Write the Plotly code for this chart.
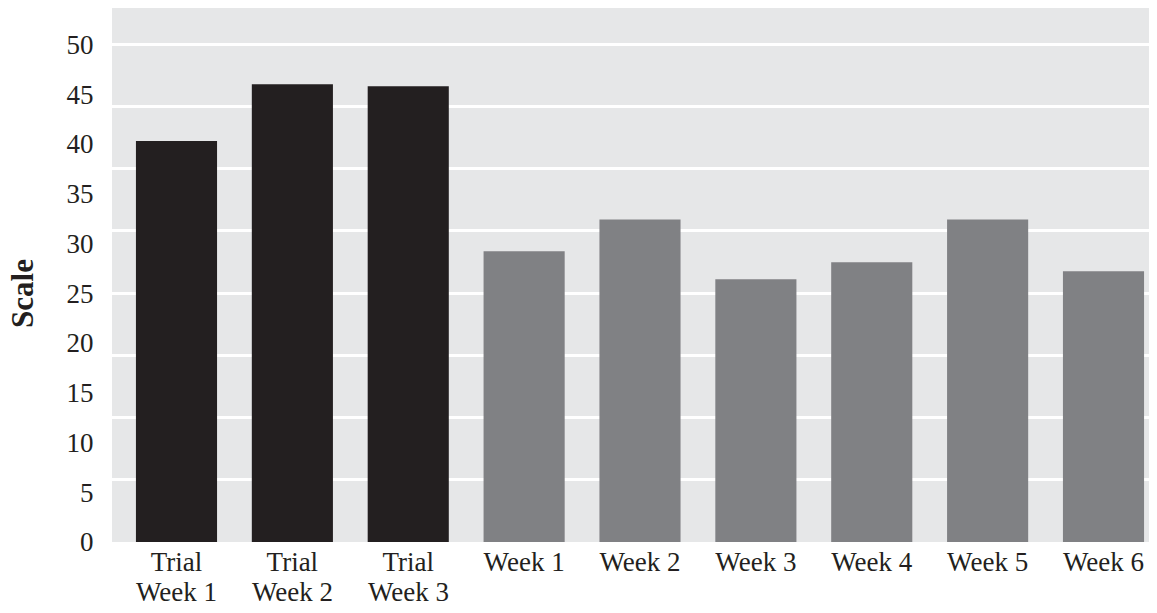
import plotly.graph_objects as go

# ---- data ----
categories = ["Trial Week 1", "Trial Week 2", "Trial Week 3",
              "Week 1", "Week 2", "Week 3", "Week 4", "Week 5", "Week 6"]
label_line1 = ["Trial", "Trial", "Trial",
               "Week 1", "Week 2", "Week 3", "Week 4", "Week 5", "Week 6"]
label_line2 = ["Week 1", "Week 2", "Week 3", "", "", "", "", "", ""]
values = [40.3, 46.0, 45.8, 29.2, 32.4, 26.4, 28.1, 32.4, 27.2]
is_trial = [True, True, True, False, False, False, False, False, False]
y_ticks = [0, 5, 10, 15, 20, 25, 30, 35, 40, 45, 50]

TRIAL_COLOR = "#231f20"
WEEK_COLOR = "#808184"
BG = "#e6e7e8"
TEXT = "#231f20"
FONT = "Liberation Serif"

bar_colors = [TRIAL_COLOR if t else WEEK_COLOR for t in is_trial]

fig = go.Figure()
fig.add_trace(go.Bar(x=categories, y=values, marker=dict(color=bar_colors, line=dict(width=0)),
                     showlegend=False, hoverinfo="x+y"))
# invisible helper trace so the gridline axis is drawn
fig.add_trace(go.Scatter(x=[categories[0]], y=[0], yaxis="y2", mode="markers",
                         marker=dict(opacity=0), showlegend=False, hoverinfo="skip"))

y_range = [0, 53.65]

annotations = []
for c, t in zip(categories, label_line2):
    if t:
        annotations.append(dict(x=c, xref="x", y=0, yref="paper", text=t, showarrow=False,
                                yanchor="middle", yshift=-50,
                                font=dict(family=FONT, size=27, color=TEXT)))
annotations.append(dict(x=-0.0852, xref="paper", y=0.4663, yref="paper", text="<b>Scale</b>",
                        textangle=-90, showarrow=False, xanchor="center", yanchor="middle",
                        font=dict(family=FONT, size=31, color=TEXT)))

fig.update_layout(
    width=1149, height=605,
    margin=dict(l=104, r=0, t=0, b=71),
    paper_bgcolor="white", plot_bgcolor=BG,
    bargap=0.30,
    font=dict(family=FONT, size=27, color=TEXT),
    xaxis=dict(type="category", categoryorder="array", categoryarray=categories,
               tickvals=categories, ticktext=label_line1, range=[-0.5566, 8.4617],
               showgrid=False, zeroline=False, showline=False,
               ticks="", ticklabelstandoff=1,
               tickfont=dict(family=FONT, size=27, color=TEXT)),
    yaxis=dict(range=y_range, tickvals=y_ticks, showgrid=False, zeroline=False, showline=False,
               ticks="outside", ticklen=12, tickcolor="rgba(0,0,0,0)",
               tickfont=dict(family=FONT, size=27, color=TEXT)),
    yaxis2=dict(range=y_range, overlaying="y", side="left", tick0=0, dtick=6.25,
                showgrid=True, gridcolor="white", gridwidth=2.5, zeroline=False,
                showticklabels=False, showline=False, ticks=""),
    annotations=annotations,
)

fig.write_html("out.html")
